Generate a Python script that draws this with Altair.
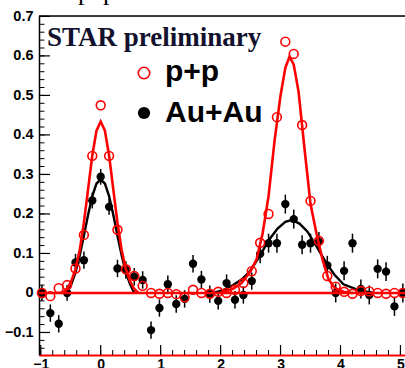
import altair as alt
import pandas as pd

# Azimuthal bins (rad)
bin_x = [-0.98, -0.84, -0.70, -0.56, -0.42, -0.28, -0.14, 0.00, 0.14, 0.28,
         0.42, 0.56, 0.70, 0.84, 0.98, 1.12, 1.26, 1.40, 1.54, 1.68,
         1.82, 1.96, 2.10, 2.24, 2.38, 2.52, 2.66, 2.80, 2.94, 3.08,
         3.22, 3.36, 3.50, 3.64, 3.78, 3.92, 4.06, 4.20, 4.34, 4.48,
         4.62, 4.76, 4.90, 5.04]

# p+p correlation
pp_y = [0.000, -0.008, 0.012, 0.020, 0.062, 0.147, 0.347, 0.475, 0.347, 0.160,
        0.060, 0.043, 0.018, 0.000, -0.002, 0.000, -0.003, -0.011, 0.008, 0.000,
        -0.002, 0.003, 0.000, 0.008, 0.025, 0.055, 0.127, 0.200, 0.445, 0.636,
        0.605, 0.425, 0.233, 0.132, 0.043, 0.016, 0.003, -0.002, 0.005, 0.004,
        0.000, -0.002, 0.000, 0.000]

# Au+Au correlation and its errors
auau_y = [0.000, -0.051, -0.078, 0.000, 0.077, 0.083, 0.234, 0.294, 0.218, 0.062,
          0.058, 0.041, 0.033, -0.094, -0.038, 0.022, -0.028, -0.015, 0.074, 0.034,
          -0.003, -0.020, 0.025, -0.017, -0.005, 0.030, 0.099, 0.126, 0.126, 0.225,
          0.187, 0.122, 0.126, 0.130, 0.070, 0.000, 0.056, 0.126, 0.010, -0.005,
          0.061, 0.054, -0.034, 0.000]
auau_err = [0.020, 0.022, 0.022, 0.020, 0.022, 0.022, 0.020, 0.020, 0.020, 0.022,
            0.022, 0.022, 0.022, 0.022, 0.022, 0.022, 0.022, 0.022, 0.022, 0.022,
            0.022, 0.022, 0.022, 0.022, 0.022, 0.022, 0.024, 0.024, 0.024, 0.024,
            0.024, 0.024, 0.024, 0.024, 0.024, 0.024, 0.024, 0.024, 0.024, 0.024,
            0.024, 0.024, 0.024, 0.024]

# Fitted peak curves
pp_near_x = [-0.63, -0.56, -0.49, -0.42, -0.35, -0.28, -0.21, -0.14, -0.07, 0.00,
             0.07, 0.14, 0.21, 0.28, 0.35, 0.42, 0.49, 0.56, 0.63]
pp_near_y = [0.000, 0.010, 0.030, 0.060, 0.108, 0.178, 0.263, 0.348, 0.411, 0.434,
             0.411, 0.348, 0.263, 0.178, 0.108, 0.060, 0.030, 0.010, 0.000]
pp_far_x = [2.00, 2.20, 2.35, 2.50, 2.60, 2.70, 2.80, 2.90, 3.00, 3.08, 3.15,
            3.22, 3.30, 3.40, 3.50, 3.60, 3.70, 3.80, 3.90, 4.05, 4.20]
pp_far_y = [0.000, 0.010, 0.025, 0.055, 0.085, 0.150, 0.245, 0.385, 0.500, 0.570, 0.598,
            0.578, 0.510, 0.365, 0.225, 0.150, 0.085, 0.035, 0.013, 0.003, 0.000]
au_near_x = [-0.57, -0.49, -0.42, -0.35, -0.28, -0.21, -0.14, -0.07, 0.00,
             0.07, 0.14, 0.21, 0.28, 0.35, 0.42, 0.49, 0.56]
au_near_y = [0.000, 0.022, 0.052, 0.095, 0.145, 0.198, 0.245, 0.277, 0.287,
             0.277, 0.245, 0.198, 0.145, 0.095, 0.052, 0.022, 0.000]
au_far_x = [1.88, 2.05, 2.21, 2.35, 2.49, 2.66, 2.80, 2.95, 3.08, 3.20, 3.32,
            3.45, 3.60, 3.77, 3.90, 4.05, 4.30, 4.55]
au_far_y = [0.000, 0.008, 0.020, 0.034, 0.055, 0.095, 0.133, 0.163, 0.180, 0.185, 0.175,
            0.155, 0.118, 0.074, 0.046, 0.022, 0.007, 0.000]

x_ticks = [-1, 0, 1, 2, 3, 4, 5]
y_ticks = [-0.1, 0.0, 0.1, 0.2, 0.3, 0.4, 0.5, 0.6, 0.7]
x_minor = [round(-1.0 + 0.2 * i, 2) for i in range(31)]
y_minor = [round(-0.14 + 0.02 * i, 2) for i in range(43)]

W, H = 366, 339
RED = "#ff0000"
FONT = "Liberation Sans"

xs = alt.Scale(domain=[-1.029, 5.076], nice=False, zero=False)
ys = alt.Scale(domain=[-0.157, 0.701], nice=False, zero=False)

pts = pd.DataFrame({"x": bin_x, "pp": pp_y, "au": auau_y, "err": auau_err})
curves = pd.concat([
    pd.DataFrame({"x": pp_near_x, "y": pp_near_y, "c": "pp_near"}),
    pd.DataFrame({"x": pp_far_x, "y": pp_far_y, "c": "pp_far"}),
    pd.DataFrame({"x": au_near_x, "y": au_near_y, "c": "au_near"}),
    pd.DataFrame({"x": au_far_x, "y": au_far_y, "c": "au_far"}),
])

X = alt.X("x:Q", scale=xs,
          axis=alt.Axis(title=None, values=x_ticks, tickSize=0, grid=False,
                        domainColor=RED, domainWidth=2.2, labelFont=FONT,
                        labelFontSize=14, labelFontWeight="bold", labelColor="black",
                        labelPadding=2, format="d"))
Y = alt.Y("y:Q", scale=ys,
          axis=alt.Axis(title=None, values=y_ticks, tickSize=0, grid=False,
                        domainColor="black", domainWidth=1.5, labelFont=FONT,
                        labelFontSize=14.5, labelFontWeight="bold", labelColor="black",
                        labelPadding=6, format=".1~f"))

base = alt.Chart(pts)

# Au+Au error bars and markers
err = base.transform_calculate(lo="datum.au - datum.err", hi="datum.au + datum.err").mark_rule(
    color="black", strokeWidth=1.5).encode(x=alt.X("x:Q", scale=xs), y=alt.Y("lo:Q", scale=ys), y2="hi:Q")
au_pts = base.mark_point(shape="circle", filled=True, color="black", size=70, opacity=1).encode(
    x=alt.X("x:Q", scale=xs), y=alt.Y("au:Q", scale=ys))

# p+p markers
pp_pts = base.mark_point(shape="circle", filled=False, color=RED, size=78, strokeWidth=1.6, opacity=1).encode(
    x=alt.X("x:Q", scale=xs), y=alt.Y("pp:Q", scale=ys))

au_curves = alt.Chart(curves).transform_filter(
    alt.FieldOneOfPredicate(field="c", oneOf=["au_near", "au_far"])).mark_line(
    color="black", strokeWidth=2.4).encode(x=X, y=Y, detail="c:N")
pp_curves = alt.Chart(curves).transform_filter(
    alt.FieldOneOfPredicate(field="c", oneOf=["pp_near", "pp_far"])).mark_line(
    color=RED, strokeWidth=2.6).encode(x=alt.X("x:Q", scale=xs), y=alt.Y("y:Q", scale=ys), detail="c:N")

zero_line = alt.Chart(pd.DataFrame({"y": [0.0]})).mark_rule(color=RED, strokeWidth=2.4).encode(
    y=alt.Y("y:Q", scale=ys), x=alt.value(0), x2=alt.value(W))

# Inward-pointing ticks
ymaj = alt.Chart(pd.DataFrame({"t": y_ticks})).mark_rule(color="black", strokeWidth=1.2).encode(
    y=alt.Y("t:Q", scale=ys), x=alt.value(0), x2=alt.value(11))
ymin = alt.Chart(pd.DataFrame({"t": y_minor})).mark_rule(color="black", strokeWidth=1).encode(
    y=alt.Y("t:Q", scale=ys), x=alt.value(0), x2=alt.value(5.5))
xmaj = alt.Chart(pd.DataFrame({"t": x_ticks})).mark_rule(color="black", strokeWidth=1.2).encode(
    x=alt.X("t:Q", scale=xs), y=alt.value(H), y2=alt.value(H - 10))
xmin = alt.Chart(pd.DataFrame({"t": x_minor})).mark_rule(color="black", strokeWidth=1).encode(
    x=alt.X("t:Q", scale=xs), y=alt.value(H), y2=alt.value(H - 5))
top_line = alt.Chart(pd.DataFrame({"t": [0]})).mark_rule(color="black", strokeWidth=1.5).encode(
    x=alt.value(0), x2=alt.value(W), y=alt.value(0))

# Header and legend
star = alt.Chart(pd.DataFrame({"t": ["STAR preliminary"]})).mark_text(
    font="Liberation Serif", fontSize=27, fontWeight="bold", color="#12122e",
    align="left", baseline="alphabetic").encode(text="t:N", x=alt.value(8), y=alt.value(30))
title_frag = alt.Chart(pd.DataFrame({"t": ["p", "p"], "px": [39, 64]})).mark_text(
    font="Liberation Serif", fontSize=26, color="black", align="left",
    baseline="alphabetic").encode(text="t:N", x=alt.X("px:Q", scale=None), y=alt.value(-16.5))
leg_pp_sym = alt.Chart(pd.DataFrame({"t": [0]})).mark_point(
    shape="circle", filled=False, color=RED, size=130, strokeWidth=1.6, opacity=1).encode(
    x=alt.value(105), y=alt.value(57))
leg_au_sym = alt.Chart(pd.DataFrame({"t": [0]})).mark_point(
    shape="circle", filled=True, color="black", size=150, opacity=1).encode(
    x=alt.value(105), y=alt.value(97))
leg_txt = alt.Chart(pd.DataFrame({"t": ["p+p", "Au+Au"], "py": [65, 106]})).mark_text(
    font=FONT, fontSize=30, fontWeight="bold", color="black", align="left",
    baseline="alphabetic").encode(text="t:N", x=alt.value(126), y=alt.Y("py:Q", scale=None))

chart = alt.layer(
    au_curves, ymin, ymaj, xmin, xmaj, top_line,
    err, au_pts, zero_line, pp_curves, pp_pts,
    star, title_frag, leg_pp_sym, leg_au_sym, leg_txt,
).properties(
    width=W, height=H,
    autosize=alt.AutoSizeParams(type="none"),
    padding={"left": 39, "top": 16, "right": 0, "bottom": 13},
).configure_view(stroke=None).configure(background="white")

chart.save("out.html", embed_options={"renderer": "svg", "actions": False})
